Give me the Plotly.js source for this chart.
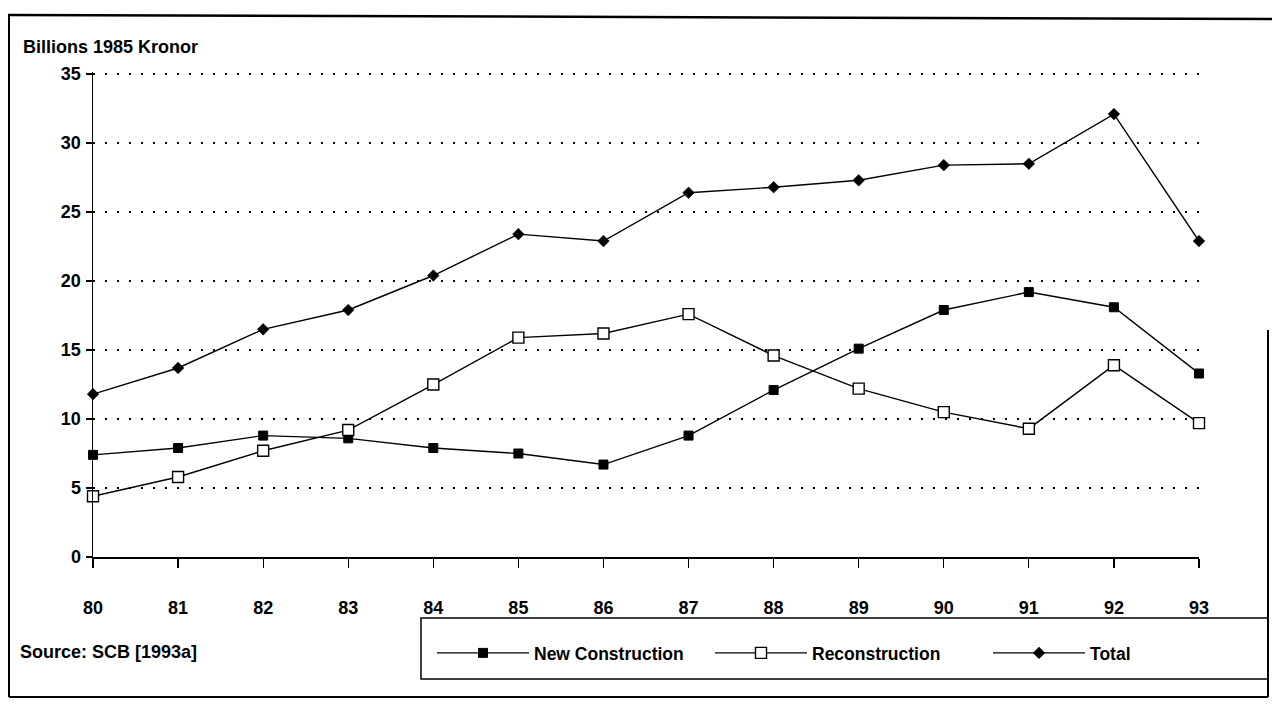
<!DOCTYPE html>
<html>
<head>
<meta charset="utf-8">
<script src="https://cdn.plot.ly/plotly-3.0.1.min.js"></script>
<style>html,body{margin:0;padding:0;background:#fff;}#chart{width:1272px;height:707px;}</style>
</head>
<body>
<div id="chart"></div>
<script>
const years = [80, 81, 82, 83, 84, 85, 86, 87, 88, 89, 90, 91, 92, 93];
const yearLabels = ["80","81","82","83","84","85","86","87","88","89","90","91","92","93"];
const newConstruction = [7.4, 7.9, 8.8, 8.6, 7.9, 7.5, 6.7, 8.8, 12.1, 15.1, 17.9, 19.2, 18.1, 13.3];
const reconstruction = [4.4, 5.8, 7.7, 9.2, 12.5, 15.9, 16.2, 17.6, 14.6, 12.2, 10.5, 9.3, 13.9, 9.7];
const total = [11.8, 13.7, 16.5, 17.9, 20.4, 23.4, 22.9, 26.4, 26.8, 27.3, 28.4, 28.5, 32.1, 22.9];
const yTicks = [0, 5, 10, 15, 20, 25, 30, 35];

const W = 1272, H = 707;
const L = 93, R = 73, T = 72, B = 150;
const pw = W - L - R, ph = H - T - B;
const px = x => (x - L) / pw;
const py = y => (H - B - y) / ph;

const FONT = "Liberation Sans, Arial, sans-serif";

const traces = [
  {x: years, y: newConstruction, name: "New Construction", mode: "lines+markers", legend: "legend", cliponaxis: false,
   line: {color: "#000", width: 1.4},
   marker: {symbol: "square", size: 9, color: "#000", line: {color: "#000", width: 1}}},
  {x: years, y: reconstruction, name: "Reconstruction", mode: "lines+markers", legend: "legend2", cliponaxis: false,
   line: {color: "#000", width: 1.4},
   marker: {symbol: "square", size: 11, color: "#fff", line: {color: "#000", width: 1.4}}},
  {x: years, y: total, name: "Total", mode: "lines+markers", legend: "legend3", cliponaxis: false,
   line: {color: "#000", width: 1.4},
   marker: {symbol: "diamond", size: 9, color: "#000", line: {color: "#000", width: 0.5}}}
];

const legFont = {family: FONT, size: 17.5, color: "#000", weight: "bold"};
function leg(xpix) {
  return {orientation: "h", x: px(xpix), y: py(653), xanchor: "left", yanchor: "middle",
          itemwidth: 92, bgcolor: "rgba(0,0,0,0)", borderwidth: 0, font: legFont};
}

const layout = {
  width: W, height: H,
  margin: {l: L, r: R, t: T, b: B},
  paper_bgcolor: "#fff", plot_bgcolor: "#fff",
  font: {family: FONT, color: "#000", size: 18, weight: "bold"},
  showlegend: true,
  legend: leg(432),
  legend2: leg(710),
  legend3: leg(988),
  xaxis: {
    range: [80, 93], tickvals: years, ticktext: yearLabels,
    showgrid: false, zeroline: false,
    showline: true, linecolor: "#000", linewidth: 1.5,
    ticks: "outside", ticklen: 9, tickwidth: 1.2, tickcolor: "#000",
    ticklabelstandoff: 25,
    tickfont: {family: FONT, size: 18, color: "#000", weight: "bold"},
    fixedrange: true
  },
  yaxis: {
    range: [0, 35.15], tickvals: yTicks, ticktext: yTicks.map(String),
    showgrid: true, gridcolor: "#000", gridwidth: 1.6, griddash: "2px,10px",
    zeroline: false,
    showline: true, linecolor: "#000", linewidth: 1.5,
    ticks: "outside", ticklen: 6, tickwidth: 1.2, tickcolor: "#000",
    ticklabelstandoff: 1,
    tickfont: {family: FONT, size: 18, color: "#000", weight: "bold"},
    fixedrange: true
  },
  shapes: [
    {type: "line", xref: "paper", yref: "paper", x0: px(8), x1: px(1272), y0: py(15), y1: py(19), line: {color: "#000", width: 2.5}},
    {type: "line", xref: "paper", yref: "paper", x0: px(9), x1: px(9), y0: py(15), y1: py(697), line: {color: "#000", width: 2}},
    {type: "line", xref: "paper", yref: "paper", x0: px(9), x1: px(1268), y0: py(697), y1: py(697), line: {color: "#000", width: 2}},
    {type: "line", xref: "paper", yref: "paper", x0: px(1268), x1: px(1268), y0: py(330), y1: py(697), line: {color: "#000", width: 2}},
    {type: "rect", xref: "paper", yref: "paper", x0: px(421), x1: px(1268), y0: py(618), y1: py(679), line: {color: "#000", width: 1.5}, fillcolor: "rgba(0,0,0,0)"}
  ],
  annotations: [
    {text: "Billions 1985 Kronor", xref: "paper", yref: "paper", x: px(21), y: py(47), xanchor: "left", yanchor: "middle", showarrow: false,
     font: {family: FONT, size: 18, color: "#000", weight: "bold"}},
    {text: "Source: SCB [1993a]", xref: "paper", yref: "paper", x: px(18), y: py(652), xanchor: "left", yanchor: "middle", showarrow: false,
     font: {family: FONT, size: 18, color: "#000", weight: "bold"}}
  ]
};

Plotly.newPlot("chart", traces, layout, {displayModeBar: false, staticPlot: true});
</script>
</body>
</html>
